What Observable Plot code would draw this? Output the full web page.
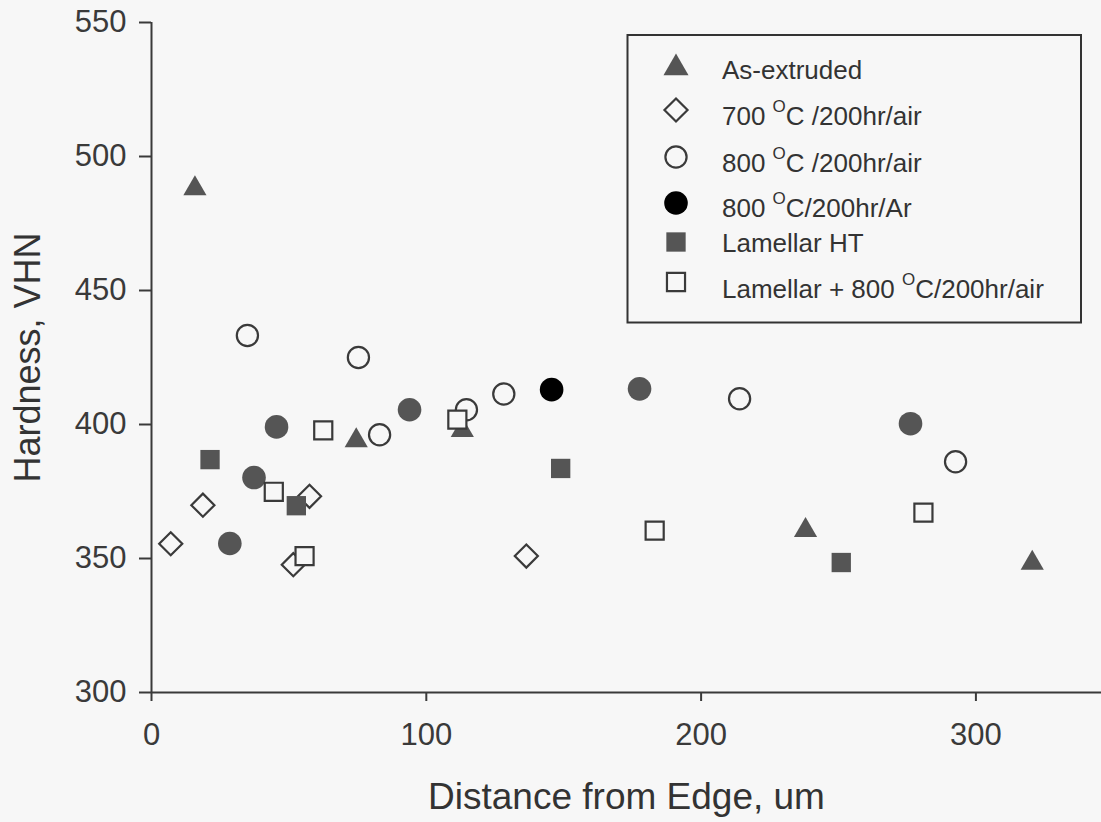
<!DOCTYPE html>
<html><head><meta charset="utf-8">
<script src="https://cdn.jsdelivr.net/npm/d3@7"></script>
<script src="https://cdn.jsdelivr.net/npm/@observablehq/plot@0.6"></script>
<style>
html,body{margin:0;padding:0;background:#f7f7f7;}
#chart svg{display:block;}
#chart g[aria-label*="axis"] line, #chart g[aria-label*="axis"] path{stroke-width:2px;}
</style></head><body><div id="chart"></div>
<script>
// ---- data ----
const asExtrudedX = [15.8, 74.5, 113.1, 238.0, 320.5];
const asExtrudedY = [488.0, 394.0, 397.8, 360.5, 348.3];

const air700X = [7.0, 18.7, 51.6, 57.5, 136.4];
const air700Y = [355.5, 369.9, 347.7, 373.2, 350.9];

const air800X = [34.9, 75.3, 83.0, 114.6, 128.2, 214.0, 292.6];
const air800Y = [433.2, 425.0, 396.2, 405.5, 411.4, 409.6, 386.1];

const ar800X = [28.5, 37.3, 45.5, 93.9, 145.6, 177.6, 276.2];
const ar800Y = [355.6, 380.2, 399.1, 405.5, 413.0, 413.3, 400.3];
const ar800Dark = [false, false, false, false, true, false, false];

const lamellarX = [21.3, 52.7, 148.9, 251.0];
const lamellarY = [386.9, 369.7, 383.6, 348.5];

const lamAirX = [44.5, 55.7, 62.5, 111.3, 183.1, 280.9];
const lamAirY = [374.9, 350.9, 397.8, 401.8, 360.4, 367.1];

const xTicks = [0, 100, 200, 300];
const yTicks = [300, 350, 400, 450, 500, 550];

// legend labels: [text, superscript, text]
const legendLabels = [
  ["As-extruded"],
  ["700 ", "O", "C /200hr/air"],
  ["800 ", "O", "C /200hr/air"],
  ["800 ", "O", "C/200hr/Ar"],
  ["Lamellar HT"],
  ["Lamellar + 800 ", "O", "C/200hr/air"]
];

const xAxisTitle = "Distance from Edge, um";
const yAxisTitle = "Hardness, VHN";

// ---- build tables ----
const zip = (xs, ys, extra) => xs.map((x, i) => ({x, y: ys[i], dark: extra ? extra[i] : false}));
const tri = zip(asExtrudedX, asExtrudedY);
const dia = zip(air700X, air700Y);
const oc = zip(air800X, air800Y);
const fc = zip(ar800X, ar800Y, ar800Dark);
const fs = zip(lamellarX, lamellarY);
const os = zip(lamAirX, lamAirY);

const BG = "#f7f7f7";
const GREY = "#555555";
const LINE = "#3a3a3a";
const FONT = "'Liberation Sans', Arial, Helvetica, sans-serif";

// styles per series (also used by the legend)
const styles = [
  {symbol: "triangle", r: 8.6, fill: GREY, stroke: "none", sw: 0},
  {symbol: "diamond2", r: 10.4, fill: BG, stroke: LINE, sw: 2.2},
  {symbol: "circle", r: 10.6, fill: BG, stroke: LINE, sw: 2.2},
  {symbol: "circle", r: 11.8, fill: "#000", stroke: "none", sw: 0},
  {symbol: "square", r: 10.9, fill: GREY, stroke: "none", sw: 0},
  {symbol: "square", r: 10.2, fill: BG, stroke: LINE, sw: 2.2}
];

const dot = (data, s, extra = {}) => Plot.dot(data, {x: "x", y: "y", symbol: s.symbol, r: s.r, fill: s.fill, stroke: s.stroke, strokeWidth: s.sw, ...extra});

const svg = Plot.plot({
  width: 1101,
  height: 822,
  marginLeft: 151,
  marginRight: 0,
  marginTop: 22,
  marginBottom: 130,
  style: {background: BG, fontFamily: FONT, fontSize: "31px", color: LINE},
  x: {domain: [0, 345.7], ticks: xTicks, tickSize: 9, tickPadding: 21, label: null, tickFormat: d => String(d)},
  y: {domain: [300, 550], ticks: yTicks, tickSize: 12, tickPadding: 13, label: null, tickFormat: d => String(d)},
  marks: [
    Plot.ruleX([0], {stroke: LINE, strokeWidth: 2}),
    Plot.ruleY([300], {stroke: LINE, strokeWidth: 2}),
    dot(tri, styles[0]),
    dot(dia, styles[1]),
    dot(oc, styles[2]),
    dot(fc.filter(d => !d.dark), styles[3], {fill: GREY}),
    dot(fc.filter(d => d.dark), styles[3], {fill: "#000"}),
    dot(fs, styles[4]),
    dot(os, styles[5]),
    Plot.text([xAxisTitle], {text: d => d, frameAnchor: "bottom", textAnchor: "middle", dy: 105, lineAnchor: "middle", fontSize: 37, fill: "#333"}),
    Plot.text([yAxisTitle], {text: d => d, frameAnchor: "left", textAnchor: "middle", dx: -123, rotate: -90, lineAnchor: "middle", fontSize: 36, fill: "#333"})
  ]
});
document.getElementById("chart").appendChild(svg);

// ---- legend ----
const lg = d3.select(svg).append("g").attr("font-family", FONT).attr("text-anchor", "start");
lg.append("rect").attr("x", 627.5).attr("y", 35).attr("width", 453.5).attr("height", 287.5)
  .attr("fill", BG).attr("stroke", "#333").attr("stroke-width", 2);
const symY = [68, 110, 157, 203, 242, 282];
const baseY = [79, 125, 172, 217, 252, 298];
const symMap = {triangle: d3.symbolTriangle, diamond2: d3.symbolDiamond2, circle: d3.symbolCircle, square: d3.symbolSquare};
legendLabels.forEach((parts, i) => {
  const s = styles[i];
  const rr = i === 0 ? 9.3 : s.r;
  lg.append("path")
    .attr("d", d3.symbol().type(symMap[s.symbol]).size(Math.PI * rr * rr)())
    .attr("transform", `translate(676,${symY[i]})`)
    .attr("fill", s.fill).attr("stroke", s.stroke).attr("stroke-width", s.sw);
  const t = lg.append("text").attr("x", 722).attr("y", baseY[i]).attr("font-size", 26).attr("fill", "#333").attr("text-anchor", "start");
  t.append("tspan").text(parts[0]);
  if (parts.length > 1) {
    t.append("tspan").attr("font-size", 17).attr("dy", -13).text(parts[1]);
    t.append("tspan").attr("dy", 13).text(parts[2]);
  }
});
</script></body></html>
